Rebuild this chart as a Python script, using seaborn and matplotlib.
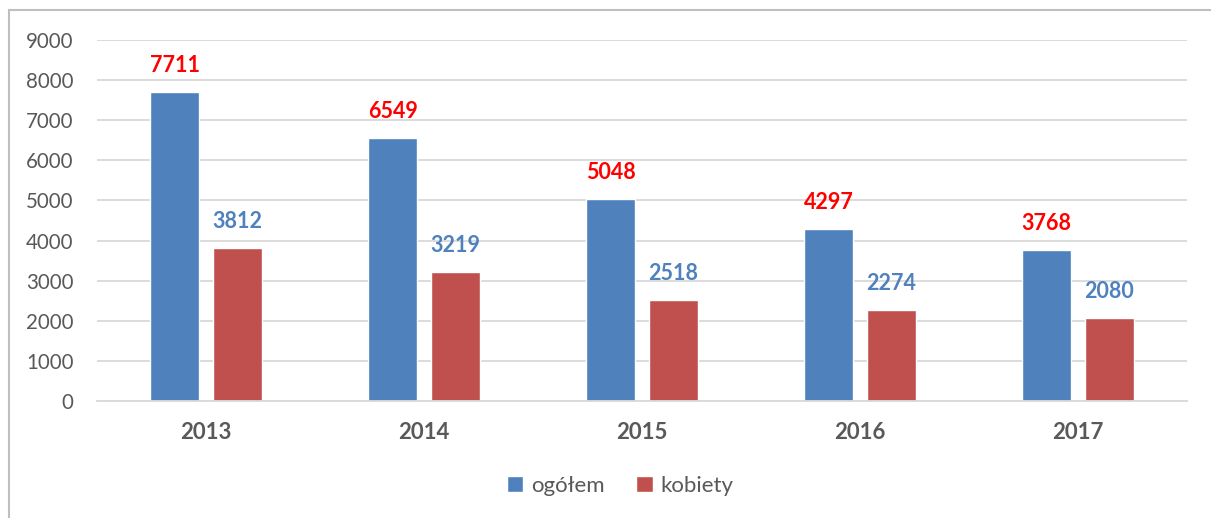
import matplotlib
matplotlib.use("Agg")
import matplotlib.pyplot as plt
import seaborn as sns
import pandas as pd
from matplotlib.patches import Rectangle

years = ["2013", "2014", "2015", "2016", "2017"]
ogolem = [7711, 6549, 5048, 4297, 3768]
kobiety = [3812, 3219, 2518, 2274, 2080]
series_names = ["ogółem", "kobiety"]

df = pd.DataFrame({
    "rok": years * 2,
    "wartosc": ogolem + kobiety,
    "seria": [series_names[0]] * len(years) + [series_names[1]] * len(years),
})

sns.set_theme(style="white")
plt.rcParams["font.family"] = ["Lato", "DejaVu Sans"]

fig = plt.figure(figsize=(12.11, 5.18), dpi=100)
ax = fig.add_axes([97 / 1211, 1 - 401 / 518, 1090 / 1211, 361 / 518])

palette = {"ogółem": "#4F81BD", "kobiety": "#C0504D"}
sns.barplot(data=df, x="rok", y="wartosc", hue="seria", palette=palette,
            width=0.573, gap=0.215, ax=ax, saturation=1, legend=True)

ax.set_ylim(0, 9000)
ax.set_xlim(-0.5, 4.5)
ax.set_yticks(range(0, 9001, 1000))
ax.yaxis.grid(True, color="#D9D9D9", linewidth=1.3)
ax.set_axisbelow(True)
for s in ["top", "right", "left"]:
    ax.spines[s].set_visible(False)
ax.spines["bottom"].set_color("#D9D9D9")
ax.spines["bottom"].set_linewidth(1.3)
ax.set_xlabel("")
ax.set_ylabel("")
ax.tick_params(axis="y", length=0, pad=17, labelsize=14.8, labelcolor="#595959")
ax.tick_params(axis="x", length=0, pad=15, labelsize=16, labelcolor="#595959")
for t in ax.get_xticklabels():
    t.set_fontweight("bold")

label_colors = {"ogółem": "#FF0000", "kobiety": "#4F81BD"}
for cont, name in zip(ax.containers, series_names):
    for bar in cont:
        h = bar.get_height()
        ax.annotate(f"{int(h)}", (bar.get_x() + bar.get_width() / 2, h),
                    xytext=(0, 19), textcoords="offset points",
                    ha="center", va="center", fontsize=15.5, fontweight="bold",
                    color=label_colors[name])

ax.legend_.remove()
handles, labels = ax.get_legend_handles_labels()
fig.legend(handles, labels, loc="center", bbox_to_anchor=(0.512, 1 - 486 / 518),
           ncol=2, frameon=False, fontsize=16, handlelength=0.75, handleheight=0.75,
           handletextpad=0.35, columnspacing=1.4, labelcolor="#595959")

fig.patches.append(Rectangle((9 / 1211, -0.05), 1.2, 1 - 10 / 518 + 0.05,
                             transform=fig.transFigure, fill=False,
                             edgecolor="#BFBFBF", linewidth=1.5))

fig.savefig("out.png", dpi=100)
